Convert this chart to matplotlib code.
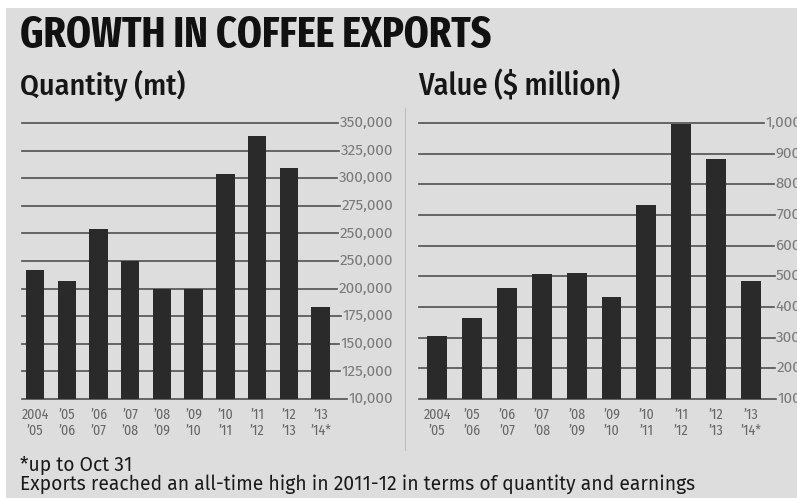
import matplotlib
matplotlib.use("Agg")
import matplotlib.pyplot as plt
from matplotlib.patches import Rectangle
from matplotlib.lines import Line2D
import matplotlib.transforms as mtransforms
import warnings
warnings.filterwarnings("ignore")

# ---------------- data ----------------
years_top = ["2004", "’05", "’06", "’07", "’08", "’09", "’10", "’11", "’12", "’13"]
years_bottom = ["’05", "’06", "’07", "’08", "’09", "’10", "’11", "’12", "’13", "’14*"]
quantity_mt = [217000, 207000, 254000, 225000, 200000, 200000, 304000, 338000, 309000, 183000]
value_musd = [307, 363, 461, 508, 512, 434, 731, 998, 882, 486]
qty_ticks = [100000, 125000, 150000, 175000, 200000, 225000, 250000, 275000, 300000, 325000, 350000]
qty_tick_labels = ["10,000", "125,000", "150,000", "175,000", "200,000", "250,000",
                   "250,000", "275,000", "300,000", "325,000", "350,000"]
val_ticks = [100, 200, 300, 400, 500, 600, 700, 800, 900, 1000]
val_tick_labels = ["100", "200", "300", "400", "500", "600", "700", "800", "900", "1,000"]

title = "GROWTH IN COFFEE EXPORTS"
sub_left = "Quantity (mt)"
sub_right = "Value ($ million)"
note1 = "*up to Oct 31"
note2 = "Exports reached an all-time high in 2011-12 in terms of quantity and earnings"

# ---------------- style ----------------
W, H = 797, 498
BG = "#dddddd"
BAR = "#2a2a2a"
GRID = "#505050"
TICK = "#7a7a7a"
XT = "#666666"

fig = plt.figure(figsize=(W / 100, H / 100), dpi=100)
fig.patch.set_facecolor("white")
fig.patches.append(Rectangle((6 / W, 0), 1 - 6 / W, 1 - 8 / H, transform=fig.transFigure,
                             facecolor=BG, edgecolor="none", zorder=-10))


def fx(px):
    return px / W


def fy(py):
    return 1 - py / H


renderer = fig.canvas.get_renderer()


def fit_text(x, y, s, target_w, size0, **kw):
    t = fig.text(fx(x), fy(y), s, fontsize=size0, va="baseline", ha="left", **kw)
    w = t.get_window_extent(renderer).width
    t.set_fontsize(size0 * target_w / w)
    return t


fit_text(20, 47, title, 472, 28, family=["Fira Sans Extra Condensed", "DejaVu Sans"],
         fontweight="bold", color="#111111")
fit_text(20, 95, sub_left, 165, 18, family=["Fira Sans Condensed", "DejaVu Sans"],
         fontweight="medium", color="#161616")
fit_text(418, 95, sub_right, 202, 18, family=["Fira Sans Condensed", "DejaVu Sans"],
         fontweight="medium", color="#161616")
t2 = fit_text(20, 490, note2, 672, 11, family=["Fira Sans", "DejaVu Sans"],
              color="#1a1a1a")
fig.text(fx(20), fy(471), note1, fontsize=t2.get_fontsize(), va="baseline", ha="left",
         family=["Fira Sans", "DejaVu Sans"], color="#1a1a1a")

# divider
fig.add_artist(Line2D([fx(405), fx(405)], [fy(108), fy(450)], color="#bdbdbd", lw=0.8))


def panel(x0, x1, xl, xr, values, ticks, labels, label_right_px, bar_w):
    ax = fig.add_axes([fx(x0), fy(399), fx(x1) - fx(x0), (399 - 123) / H])
    ax.set_facecolor("none")
    for s in ax.spines.values():
        s.set_visible(False)
    ax.set_xticks([])
    ax.set_yticks([])
    ax.set_xlim(xl, xr)
    xs = list(range(len(values)))
    ax.bar(xs, values, width=bar_w, color=BAR, zorder=3, bottom=0)
    ax.set_ylim(ticks[0], ticks[-1])
    trans = mtransforms.blended_transform_factory(fig.transFigure, ax.transData)
    texts = []
    for v, lab in zip(ticks, labels):
        t = ax.text(fx(label_right_px), v, lab, transform=trans, ha="right", va="center",
                    fontsize=11, family=["Fira Sans", "DejaVu Sans"], color=TICK,
                    clip_on=False)
        texts.append((v, t))
    fig.canvas.draw()
    for v, t in texts:
        bb = t.get_window_extent(renderer)
        xend = (bb.x0 - 1.5 - ax.bbox.x0) / ax.bbox.width
        ax.axhline(v, xmin=0, xmax=xend, color=GRID, lw=1.2, zorder=1, clip_on=False)
    tx = mtransforms.blended_transform_factory(ax.transData, fig.transFigure)
    for i in xs:
        ax.text(i, fy(415), years_top[i], transform=tx, ha="center", va="center",
                fontsize=10, family=["Fira Sans Condensed", "DejaVu Sans"], color=XT)
        ax.text(i, fy(431), years_bottom[i], transform=tx, ha="center", va="center",
                fontsize=10, family=["Fira Sans Condensed", "DejaVu Sans"], color=XT)
    return ax


panel(22, 333, -0.41, 9.39, quantity_mt, qty_ticks, qty_tick_labels, 393, 0.58)
panel(419, 775, -0.52, 9.69, value_musd, val_ticks, val_tick_labels, 801, 0.57)

fig.savefig("out.png", dpi=100, facecolor=fig.get_facecolor())
